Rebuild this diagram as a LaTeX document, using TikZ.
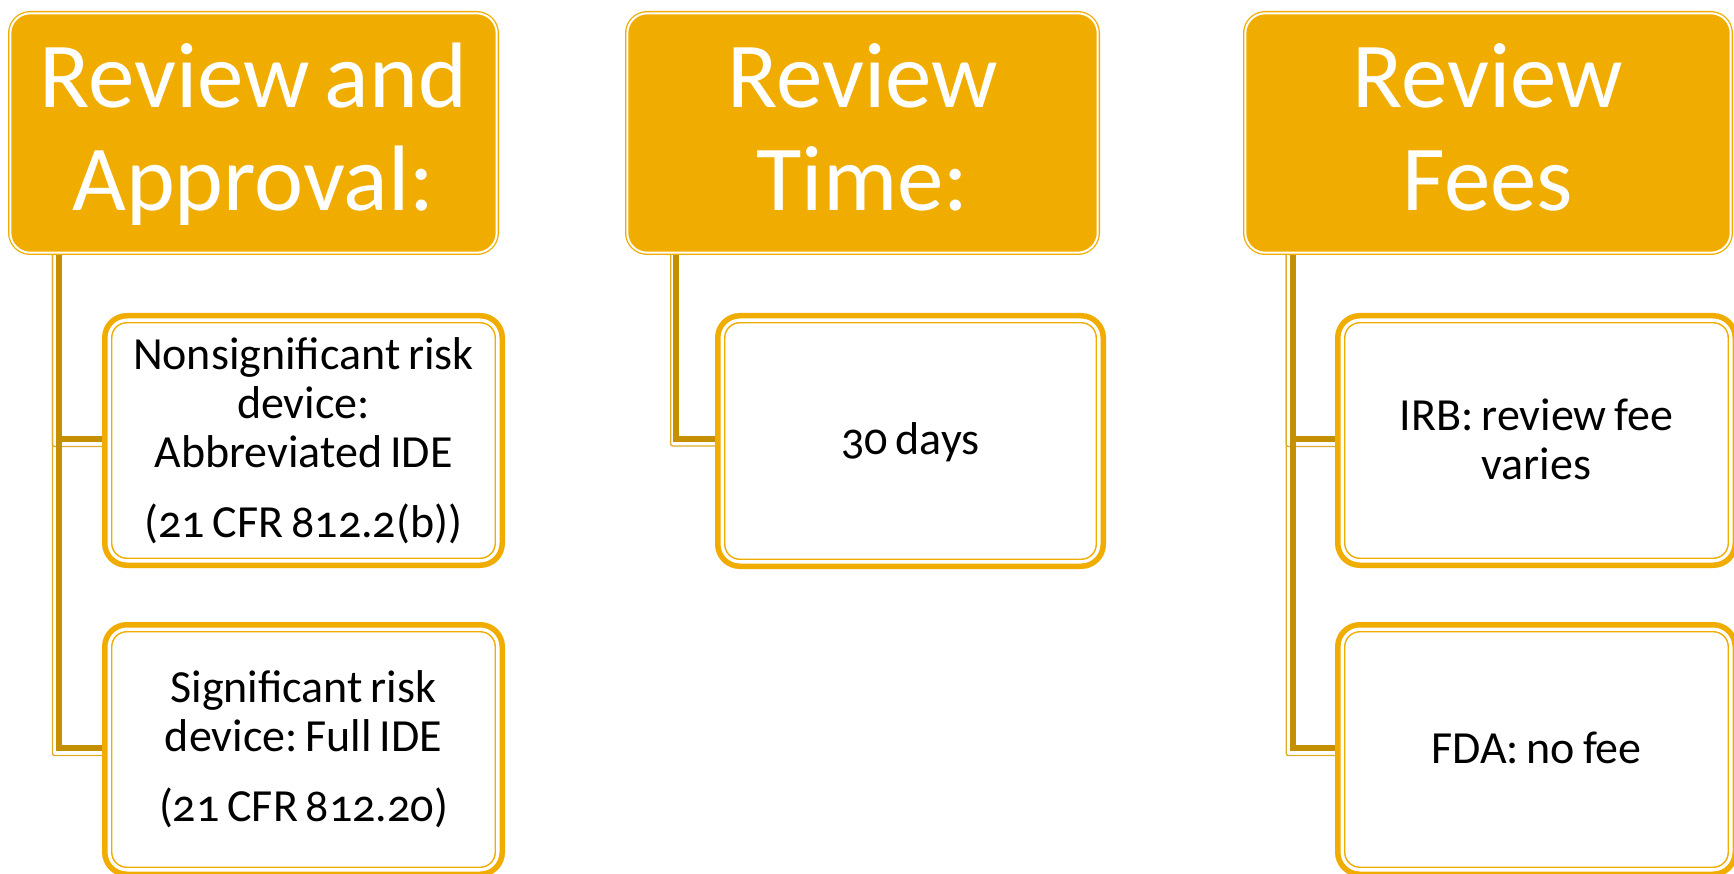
\documentclass[tikz,border=0pt]{standalone}
\usepackage{fontspec}
\setmainfont{Carlito}[Numbers=OldStyle, WordSpace=0.7]
\usetikzlibrary{backgrounds}

\definecolor{gold}{RGB}{240,173,0}
\definecolor{stem}{RGB}{196,143,0}
\definecolor{stemlight}{RGB}{222,172,40}

% fixed, non-stretching word spaces for centred paragraphs
\newcommand\fixedspaces{\frenchspacing\spaceskip=0.17em\relax\xspaceskip=0.17em\relax}

\begin{document}
\begin{tikzpicture}[x=1pt,y=-1pt,
  head/.style={draw=gold, fill=gold, double=white, double distance=2pt,
    line width=1.3pt, rounded corners=20pt, inner sep=0pt, outer sep=0pt,
    text=white, align=center, text height=160pt, text depth=4pt,
    font=\fontsize{93}{103}\selectfont},
  leaf/.style={draw=gold, fill=white, line width=5.5pt, rounded corners=22pt,
    inner sep=0pt, outer sep=0pt, text=black, align=center, text width=380pt,
    text height=40pt, font=\fontsize{46}{49}\selectfont,
    execute at begin node=\fixedspaces},
  rim/.style={draw=gold, line width=1.4pt, rounded corners=15pt},
  trunk/.style={draw=stem, line width=6pt},
  shade/.style={draw=stemlight, line width=1.3pt, rounded corners=2pt}]

\useasboundingbox (0,0) rectangle (1734,874);
\clip (0,0) rectangle (1734,874);

% column headings
\node[head, minimum width=486.4pt, minimum height=239.4pt] (h1) at (253.5,133) {Review and\\Approval:};
\node[head, minimum width=470.4pt, minimum height=239.4pt] (h2) at (862.5,133) {Review\\Time:};
\node[head, minimum width=485.4pt, minimum height=239.4pt] (h3) at (1488,133) {Review\\Fees};

% detail boxes
\node[leaf, text depth=181pt, minimum width=397.5pt, minimum height=249.5pt] (c11) at (303.5,440.5)
  {Nonsignificant risk\\device:\\Abbreviated IDE\\[21pt](21 CFR 812.2(b))};
\node[leaf, text depth=135pt, minimum width=397.5pt, minimum height=249.5pt] (c12) at (303.5,749.5)
  {Significant risk\\device: Full IDE\\[21pt](21 CFR 812.20)};
\node[leaf, text depth=13pt, minimum width=385.5pt, minimum height=250.5pt] (c2) at (910.5,441)
  {30 days};
\node[leaf, text depth=61pt, minimum width=397.5pt, minimum height=249.5pt] (c31) at (1536.5,440.5)
  {IRB: review fee\\varies};
\node[leaf, text depth=13pt, minimum width=397.5pt, minimum height=249.5pt] (c32) at (1536.5,749.5)
  {FDA: no fee};

% inner outline of each detail box
\foreach \n in {c11,c12,c2,c31,c32}
  \draw[rim] ([shift={(7pt,-7pt)}]\n.north west) rectangle ([shift={(-7pt,7pt)}]\n.south east);

% tree connectors, behind the boxes
\begin{scope}[on background layer]
  \fill[white] (0,0) rectangle (1734,874);
  \coordinate (t1) at ([xshift=48.4pt]h1.south west);
  \coordinate (s1) at ([xshift=42.2pt]h1.south west);
  \coordinate (t2) at ([xshift=48.4pt]h2.south west);
  \coordinate (s2) at ([xshift=43.4pt]h2.south west);
  \coordinate (t3) at ([xshift=47.2pt]h3.south west);
  \coordinate (s3) at ([xshift=41.0pt]h3.south west);

  \draw[shade] (s1) |- ([yshift=-6pt]c12.west);
  \draw[shade] (s1) |- ([yshift=-6pt]c11.west);
  \draw[shade] (s2) |- ([yshift=-5pt]c2.west);
  \draw[shade] (s3) |- ([yshift=-6pt]c32.west);
  \draw[shade] (s3) |- ([yshift=-6pt]c31.west);

  \draw[trunk] (t1) |- ([yshift=1.5pt]c12.west);
  \draw[trunk] (t1) |- ([yshift=1.5pt]c11.west);
  \draw[trunk] (t2) |- ([yshift=2pt]c2.west);
  \draw[trunk] (t3) |- ([yshift=1.5pt]c32.west);
  \draw[trunk] (t3) |- ([yshift=1.5pt]c31.west);
\end{scope}
\end{tikzpicture}
\end{document}
